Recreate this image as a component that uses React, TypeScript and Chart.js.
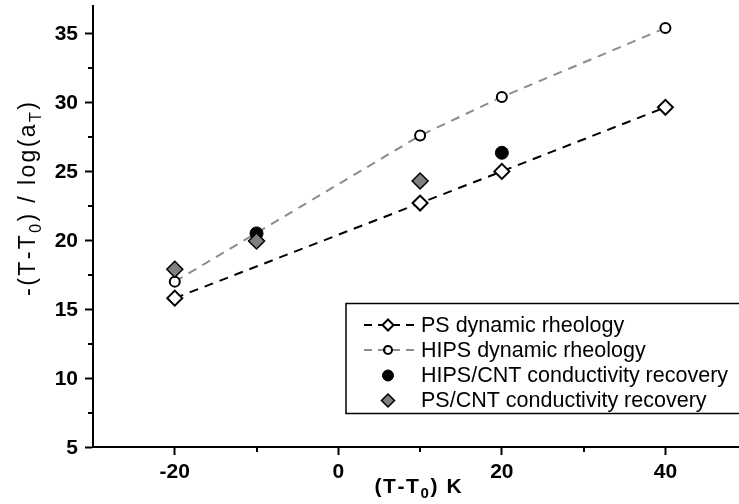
import React, { useEffect, useRef } from "react";
import { Chart, registerables } from "chart.js";

Chart.register(...registerables);

// ---- data ----
const xMajorTicks = [-20, 0, 20, 40];
const xMinorTicks = [-10, 10, 30];
const yMajorTicks = [5, 10, 15, 20, 25, 30, 35];
const yMinorTicks = [7.5, 12.5, 17.5, 22.5, 27.5, 32.5];

const psX = [-20, 10, 20, 40];
const psY = [15.8, 22.7, 25.0, 29.65];

const hipsX = [-20, 10, 20, 40];
const hipsY = [17.0, 27.6, 30.4, 35.4];

const hipsCntX = [-10, 20];
const hipsCntY = [20.5, 26.35];

const psCntX = [-20, -10, 10];
const psCntY = [17.9, 19.95, 24.3];

const seriesLabels = [
  "PS dynamic rheology",
  "HIPS dynamic rheology",
  "HIPS/CNT conductivity recovery",
  "PS/CNT conductivity recovery",
];

const FONT = "'Liberation Sans', Arial, Helvetica, sans-serif";

const toPts = (xs: number[], ys: number[]) => xs.map((x, i) => ({ x, y: ys[i] }));

type Seg = { t: string; sub?: boolean };

// draws text char by char with letter spacing, centred on (cx, cy)
function drawRich(
  ctx: CanvasRenderingContext2D,
  segs: Seg[],
  cx: number,
  cy: number,
  size: number,
  weight: string,
  spacing: number
) {
  const subSize = Math.round(size * 0.7);
  const fontMain = `${weight} ${size}px ${FONT}`;
  const fontSub = `${weight} ${subSize}px ${FONT}`;
  const chars: { c: string; sub: boolean; w: number }[] = [];
  segs.forEach((s) => {
    ctx.font = s.sub ? fontSub : fontMain;
    for (const c of s.t) chars.push({ c, sub: !!s.sub, w: ctx.measureText(c).width });
  });
  const total = chars.reduce((a, ch) => a + ch.w, 0) + spacing * (chars.length - 1);
  let x = cx - total / 2;
  ctx.textBaseline = "middle";
  ctx.textAlign = "left";
  chars.forEach((ch) => {
    ctx.font = ch.sub ? fontSub : fontMain;
    ctx.fillText(ch.c, x, ch.sub ? cy + size * 0.33 : cy);
    x += ch.w + spacing;
  });
}

function drawMarker(
  ctx: CanvasRenderingContext2D,
  style: string,
  x: number,
  y: number,
  r: number,
  fill: string | null,
  stroke: string,
  lw: number
) {
  ctx.save();
  ctx.setLineDash([]);
  ctx.beginPath();
  if (style === "circle") {
    ctx.arc(x, y, r, 0, Math.PI * 2);
  } else {
    ctx.moveTo(x, y - r);
    ctx.lineTo(x + r, y);
    ctx.lineTo(x, y + r);
    ctx.lineTo(x - r, y);
    ctx.closePath();
  }
  if (fill) {
    ctx.fillStyle = fill;
    ctx.fill();
  }
  ctx.lineWidth = lw;
  ctx.strokeStyle = stroke;
  ctx.stroke();
  ctx.restore();
}

const decorPlugin = {
  id: "decor",
  afterDraw(chart: any) {
    const ctx: CanvasRenderingContext2D = chart.ctx;
    const xs = chart.scales.x;
    const ys = chart.scales.y;
    const area = chart.chartArea;
    ctx.save();
    // minor ticks
    ctx.strokeStyle = "#000";
    ctx.lineWidth = 2;
    ctx.setLineDash([]);
    ctx.beginPath();
    xMinorTicks.forEach((v) => {
      const px = Math.round(xs.getPixelForValue(v));
      ctx.moveTo(px, area.bottom);
      ctx.lineTo(px, area.bottom + 5);
    });
    yMinorTicks.forEach((v) => {
      const py = Math.round(ys.getPixelForValue(v));
      ctx.moveTo(area.left - 5, py);
      ctx.lineTo(area.left, py);
    });
    ctx.stroke();

    // tick labels
    ctx.fillStyle = "#000";
    ctx.font = `bold 21px ${FONT}`;
    ctx.textBaseline = "middle";
    ctx.textAlign = "center";
    xMajorTicks.forEach((v) => {
      ctx.fillText(String(v), xs.getPixelForValue(v), area.bottom + 25);
    });
    ctx.textAlign = "right";
    yMajorTicks.forEach((v) => {
      ctx.fillText(String(v), area.left - 15, ys.getPixelForValue(v) + 1);
    });

    // axis titles
    drawRich(ctx, [{ t: "(T-T" }, { t: "0", sub: true }, { t: ") K" }], 418, 487, 21, "bold", 1.6);
    ctx.save();
    ctx.translate(29, 199);
    ctx.rotate(-Math.PI / 2);
    drawRich(
      ctx,
      [{ t: "-(T-T" }, { t: "0", sub: true }, { t: ") / log(a" }, { t: "T", sub: true }, { t: ")" }],
      0,
      0,
      23,
      "normal",
      2.4
    );
    ctx.restore();

    // legend
    ctx.lineWidth = 1.5;
    ctx.strokeStyle = "#000";
    ctx.strokeRect(346, 303.5, 420, 110);
    const rowsY = [325, 350, 375.5, 400.5];
    const ds = chart.data.datasets;
    const mx = 388;
    ds.forEach((d: any, i: number) => {
      const y = rowsY[i];
      if (d.showLine) {
        ctx.save();
        ctx.strokeStyle = d.borderColor;
        ctx.lineWidth = 2;
        ctx.setLineDash([8, 6]);
        ctx.beginPath();
        ctx.moveTo(364, y);
        ctx.lineTo(414, y);
        ctx.stroke();
        ctx.restore();
      }
      if (d.pointStyle === "circle") {
        drawMarker(ctx, "circle", mx, y, i === 1 ? 4 : 5.5, i === 1 ? null : d.pointBackgroundColor, "#000", i === 1 ? 2 : 1);
      } else {
        drawMarker(ctx, "diamond", mx, y, i === 0 ? 5.5 : 6.5, d.pointBackgroundColor, "#000", i === 0 ? 2 : 1.5);
      }
      ctx.fillStyle = "#000";
      ctx.font = `normal 21.5px ${FONT}`;
      ctx.textAlign = "left";
      ctx.textBaseline = "middle";
      ctx.fillText(d.label, 421, y + 1);
    });
    ctx.restore();
  },
};

export default function App() {
  const ref = useRef<HTMLCanvasElement | null>(null);
  useEffect(() => {
    if (!ref.current) return;
    const gridOpts = {
      display: true,
      drawOnChartArea: false,
      drawTicks: true,
      tickLength: 8,
      tickWidth: 2,
      tickColor: "#000",
    };
    const chart = new Chart(ref.current, {
      type: "scatter",
      data: {
        datasets: [
          {
            label: seriesLabels[0],
            data: toPts(psX, psY),
            showLine: true,
            borderColor: "#000",
            borderWidth: 2,
            borderDash: [9, 7],
            pointStyle: "rectRot",
            pointRadius: 7.5,
            pointBorderWidth: 2,
            pointBorderColor: "#000",
            pointBackgroundColor: "#fff",
            order: 4,
          },
          {
            label: seriesLabels[1],
            data: toPts(hipsX, hipsY),
            showLine: true,
            borderColor: "#8c8c8c",
            borderWidth: 2,
            borderDash: [9, 7],
            pointStyle: "circle",
            pointRadius: 5,
            pointBorderWidth: 2,
            pointBorderColor: "#000",
            pointBackgroundColor: "#fff",
            order: 3,
          },
          {
            label: seriesLabels[2],
            data: toPts(hipsCntX, hipsCntY),
            showLine: false,
            borderColor: "#000",
            pointStyle: "circle",
            pointRadius: 6.5,
            pointBorderWidth: 1,
            pointBorderColor: "#000",
            pointBackgroundColor: "#000",
            order: 2,
          },
          {
            label: seriesLabels[3],
            data: toPts(psCntX, psCntY),
            showLine: false,
            borderColor: "#000",
            pointStyle: "rectRot",
            pointRadius: 8,
            pointBorderWidth: 1.5,
            pointBorderColor: "#000",
            pointBackgroundColor: "#808080",
            order: 1,
          },
        ] as any,
      },
      options: {
        animation: false,
        responsive: false,
        devicePixelRatio: 1,
        layout: { autoPadding: false, padding: { left: 0, top: 6, right: 0, bottom: 0 } },
        plugins: { legend: { display: false }, tooltip: { enabled: false } },
        scales: {
          x: {
            type: "linear",
            min: -30,
            max: 49,
            afterBuildTicks: (s: any) => {
              s.ticks = xMajorTicks.map((v) => ({ value: v }));
            },
            afterFit: (s: any) => {
              s.height = 57;
            },
            grid: gridOpts,
            border: { display: true, color: "#000", width: 2 },
            ticks: { display: false },
          },
          y: {
            type: "linear",
            min: 5,
            max: 37,
            afterBuildTicks: (s: any) => {
              s.ticks = yMajorTicks.map((v) => ({ value: v }));
            },
            afterFit: (s: any) => {
              s.width = 93;
            },
            grid: gridOpts,
            border: { display: true, color: "#000", width: 2 },
            ticks: { display: false },
          },
        },
      },
      plugins: [decorPlugin],
    });
    return () => chart.destroy();
  }, []);
  return (
    <div
      style={{
        position: "absolute",
        left: 0,
        top: 0,
        width: 739,
        height: 504,
        overflow: "hidden",
        background: "#fff",
      }}
    >
      <canvas ref={ref} width={739} height={504} style={{ display: "block" }} />
    </div>
  );
}
